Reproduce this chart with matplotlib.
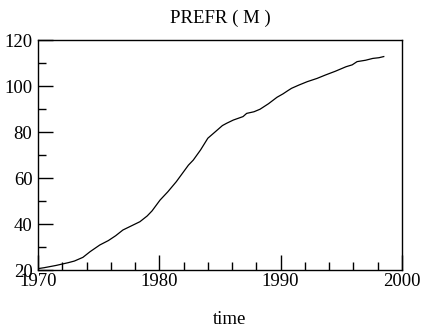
import matplotlib
matplotlib.use("Agg")
import matplotlib.pyplot as plt
from matplotlib.ticker import MultipleLocator

# values
years = [1970.0, 1970.5, 1971.0, 1971.5, 1972.0, 1972.5, 1973.0, 1973.7,
         1974.3, 1975.1, 1975.8, 1976.4, 1977.0, 1977.7, 1978.4, 1979.0,
         1979.4, 1980.06, 1980.7, 1981.4, 1981.9, 1982.4, 1982.8, 1983.4,
         1984.0, 1984.7, 1985.2, 1985.55, 1986.1, 1986.9, 1987.2, 1987.8,
         1988.3, 1989.0, 1989.7, 1990.2, 1990.6, 1990.9, 1991.5, 1992.2,
         1993.0, 1993.7, 1994.5, 1995.4, 1995.9, 1996.3, 1997.0, 1997.6,
         1998.1, 1998.5]
prefr = [20.6, 21.0, 21.5, 22.0, 22.6, 23.2, 23.9, 25.5,
         28.0, 30.9, 32.8, 34.9, 37.4, 39.2, 41.0, 43.5,
         45.7, 50.4, 54.0, 58.4, 62.0, 65.6, 67.8, 72.2,
         77.3, 80.5, 82.8, 83.8, 85.2, 86.7, 88.1, 88.8,
         89.9, 92.3, 95.1, 96.6, 98.0, 99.0, 100.4, 101.9,
         103.3, 104.8, 106.4, 108.4, 109.2, 110.6, 111.2, 112.0,
         112.3, 112.8]

plt.rcParams['font.family'] = ['Liberation Serif', 'DejaVu Serif']

fig = plt.figure(figsize=(4.24, 3.32), dpi=100)
ax = fig.add_axes([0.0896, 0.1867, 0.8584, 0.6928])
ax.plot(years, prefr, color='black', linewidth=0.9)

ax.set_xlim(1970, 2000)
ax.set_ylim(20, 120)
ax.xaxis.set_major_locator(MultipleLocator(10))
ax.xaxis.set_minor_locator(MultipleLocator(2))
ax.yaxis.set_major_locator(MultipleLocator(20))
ax.yaxis.set_minor_locator(MultipleLocator(10))
ax.tick_params(which='both', direction='in', top=False, right=False,
               labelsize=13.5, width=1.0, color='black')
ax.tick_params(which='major', length=11)
ax.tick_params(which='minor', length=6)
ax.tick_params(axis='x', which='major', pad=2)
ax.tick_params(axis='y', which='major', pad=4)
for s in ax.spines.values():
    s.set_linewidth(1.0)

ax.set_title('PREFR ( M )', fontsize=13.5, pad=12)
ax.set_xlabel('time', fontsize=13.5)
ax.xaxis.set_label_coords(0.525, -0.18)

fig.savefig('out.png', dpi=100)
